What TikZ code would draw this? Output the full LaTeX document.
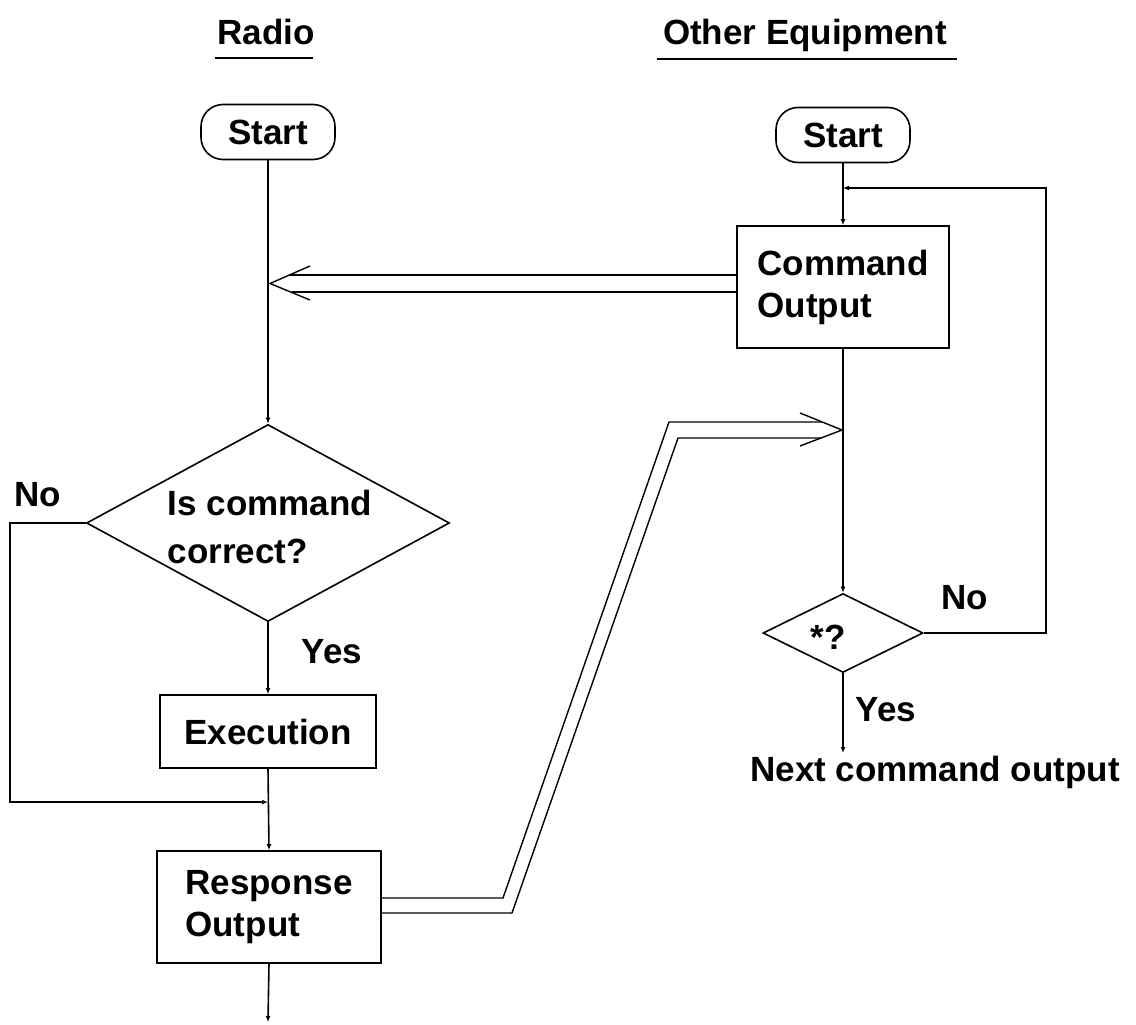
\documentclass[tikz,border=0pt]{standalone}
\usepackage{fontspec}
\setmainfont{Liberation Sans}
\usetikzlibrary{shapes.geometric,arrows.meta,calc}
\begin{document}
\begin{tikzpicture}[x=1pt,y=-1pt,
  every node/.style={font=\fontsize{35}{42}\selectfont\bfseries, inner sep=0pt},
  ln/.style={line width=1.6pt},
  dbl/.style={line width=1.4pt, line join=miter},
  tip/.style={ln,-{Latex[length=6pt,width=5pt]}},
  proc/.style={draw,line width=1.6pt,rectangle,align=left},
  term/.style={draw,line width=1.6pt,rounded corners=22pt,minimum width=134pt,minimum height=55pt},
  dec/.style={draw,line width=1.6pt,diamond,inner sep=0pt},
]
\useasboundingbox (0,0) rectangle (1136,1025);
\fill[white] (0,0) rectangle (1136,1025);

% titles
\node[anchor=base] (t1) at (266,45) {Radio};
\node[anchor=base] (t2) at (805,45) {Other Equipment};
\draw[line width=1.4pt] ($(t1.base west)+(-2,13)$) -- ($(t1.base east)+(-2,13)$);
\draw[line width=1.4pt] ($(t2.base west)+(-6,14)$) -- ($(t2.base east)+(10,14)$);

% left column (Radio)
\node[term] (s1) at (268,132) {Start};
\node[dec, minimum width=363pt, minimum height=197pt] (d1) at (268,523) {};
\node[align=left, font=\fontsize{35}{48}\selectfont\bfseries] (d1t) at (270,527) {Is command\\correct?};
\node[proc, minimum width=216pt, minimum height=73pt] (e1) at (268,731.5) {Execution};
\node[proc, minimum width=224pt, minimum height=112pt] (r1) at (269,907) {Response\\Output};
\coordinate (j2) at (268,802);
\coordinate (nlc) at (10,802);
\coordinate (endL) at (268,1022);
\node (noL) at (38,495) {No};
\node (yesL) at (332,652) {Yes};

\draw[tip] (s1.south) -- (d1.north);
\draw[tip] (d1.south) -- (e1.north);
\draw[tip] (e1.south) -- (r1.north);
\draw[tip] (d1.west) -- (d1.west -| nlc) -- (nlc) -- (j2);
\draw[tip] (r1.south) -- (endL);

% right column (Other Equipment)
\node[term] (s2) at (843,135) {Start};
\node[proc, minimum width=212pt, minimum height=122pt] (c1) at (843,287) {Command\\Output};
\node[dec, minimum width=160pt, minimum height=79pt] (d2) at (843,633) {};
\node (d2t) at (828,637) {*?};
\coordinate (j1) at (843,188);
\coordinate (lp) at (1046,188);
\coordinate (nx) at (843,753);
\node (noR) at (965,598) {No};
\node (yesR) at (886,710) {Yes};
\node (next) at (935,772) {Next command output};

\draw[tip] (s2.south) -- (c1.north);
\draw[tip] (c1.south) -- (d2.north);
\draw[tip] (d2.east) -| (lp) -- (j1);
\draw[tip] (d2.south) -- (nx);

% double arrow: command to radio
\coordinate (a1u) at ($(c1.west)+(0,-12)$);
\coordinate (a1l) at ($(c1.west)+(0,5)$);
\coordinate (h1) at (270,283.5);
\draw[dbl] (a1u) -- (289,275);
\draw[dbl] (a1l) -- (292,292);
\draw[dbl] (310,266) -- (h1) -- (310,300);

% double arrow: response to other equipment
\coordinate (b1u) at ($(r1.east)+(0,-9)$);
\coordinate (b1l) at ($(r1.east)+(0,6)$);
\coordinate (h2) at (842,430);
\draw[dbl] (b1u) -- (503,898) -- (669,422) -- (822,422);
\draw[dbl] (b1l) -- (512,913) -- (678,438) -- (821,438);
\draw[dbl] (800,413) -- (h2) -- (800,446);
\end{tikzpicture}
\end{document}
